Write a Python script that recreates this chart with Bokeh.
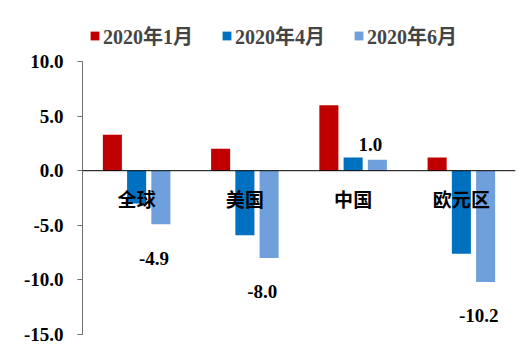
from bokeh.plotting import figure
from bokeh.models import (ColumnDataSource, FactorRange, Range1d, FixedTicker, NumeralTickFormatter,
                          Span, Legend, LegendItem)
from bokeh.transform import dodge
from bokeh.core.properties import value
from bokeh.embed import file_html
from bokeh.resources import INLINE

categories = ["全球", "美国", "中国", "欧元区"]
series_names = ["2020年1月", "2020年4月", "2020年6月"]
jan = [3.3, 2.0, 6.0, 1.2]
apr = [-3.0, -5.9, 1.2, -7.6]
jun = [-4.9, -8.0, 1.0, -10.2]
y_ticks = [-15, -10, -5, 0, 5, 10]

colors = ["#C00000", "#0070C0", "#70A0DC"]

src = ColumnDataSource(dict(cat=categories, jan=jan, apr=apr, jun=jun))

px_per_unit = 10.92
frame_h = 317
p = figure(width=516, height=350, output_backend="svg", toolbar_location=None,
           x_range=FactorRange(*categories, range_padding=0),
           y_range=Range1d(-15, -15 + frame_h / px_per_unit),
           x_axis_location=None,
           min_border_left=82, min_border_right=1, min_border_top=17, min_border_bottom=16)
p.outline_line_color = None
p.grid.visible = False
p.background_fill_color = "white"
p.border_fill_color = "white"

off = 0.224
w = 0.176
r1 = p.vbar(x=dodge("cat", -off, range=p.x_range), top="jan", bottom=0, width=w, source=src,
            fill_color=colors[0], line_color=None)
r2 = p.vbar(x=dodge("cat", 0, range=p.x_range), top="apr", bottom=0, width=w, source=src,
            fill_color=colors[1], line_color=None)
r3 = p.vbar(x=dodge("cat", off, range=p.x_range), top="jun", bottom=0, width=w, source=src,
            fill_color=colors[2], line_color=None)

p.add_layout(Span(location=0, dimension="width", line_color="black", line_width=1))

ax = p.yaxis[0]
ax.ticker = FixedTicker(ticks=y_ticks)
ax.formatter = NumeralTickFormatter(format="0.0")
ax.bounds = (y_ticks[0], y_ticks[-1])
ax.axis_line_color = "#6f6f6f"
ax.major_tick_line_color = "#6f6f6f"
ax.major_tick_out = 5
ax.major_tick_in = 0
ax.minor_tick_line_color = None
ax.major_label_text_font = "Liberation Serif"
ax.major_label_text_font_style = "bold"
ax.major_label_text_font_size = "19px"
ax.major_label_text_color = "black"
ax.major_label_standoff = 14

# category labels just below zero line
cat_label_y = -2.5
lab_src = ColumnDataSource(dict(cat=categories, y=[cat_label_y] * len(categories)))
p.text(x="cat", y="y", text="cat", source=lab_src, text_align="center", text_baseline="middle",
       text_font=value("Noto Sans CJK SC"), text_font_style="bold", text_font_size="19px",
       text_color="black")

# value labels for June series
lbl_y = [v - 3.1 if v < 0 else v + 1.4 for v in jun]
lbl_txt = [f"{v:.1f}" for v in jun]
vsrc = ColumnDataSource(dict(cat=categories, y=lbl_y, t=lbl_txt))
p.text(x=dodge("cat", 0.16, range=p.x_range), y="y", text="t", source=vsrc,
       text_align="center", text_baseline="middle",
       text_font=value("Liberation Serif"), text_font_style="bold", text_font_size="19px",
       text_color="black")

legend = Legend(items=[LegendItem(label=series_names[0], renderers=[r1]),
                       LegendItem(label=series_names[1], renderers=[r2]),
                       LegendItem(label=series_names[2], renderers=[r3])],
                orientation="horizontal", location=(7, 284),
                label_text_font="Liberation Serif, Noto Sans CJK SC", label_text_font_style="bold",
                label_text_font_size="20px", label_height=20, glyph_height=11, glyph_width=11,
                label_standoff=3, spacing=28, padding=0, margin=0,
                background_fill_alpha=0, border_line_alpha=0)
p.add_layout(legend, "center")

open("out.html", "w").write(file_html(p, INLINE))
